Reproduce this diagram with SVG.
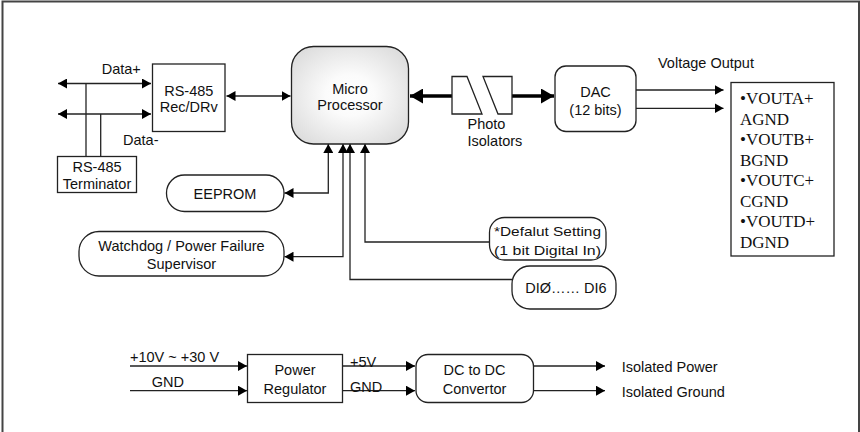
<svg xmlns="http://www.w3.org/2000/svg" width="860" height="432" viewBox="0 0 860 432">
<style>
.box{fill:#fff;stroke:#222;stroke-width:1.3}
.t{font-family:"Liberation Sans",Arial,sans-serif;font-size:14.5px;fill:#111}
.c{text-anchor:middle}
.tm{font-family:"Liberation Serif","Times New Roman",serif;font-size:17px;fill:#111}
.ln{fill:none;stroke:#222;stroke-width:1.3}
.thick{fill:none;stroke:#000;stroke-width:3.5}
</style>
<defs>
<marker id="a" markerUnits="userSpaceOnUse" markerWidth="10" markerHeight="10" refX="9" refY="5" orient="auto-start-reverse">
<path d="M0,0 L9,5 L0,10 z" fill="#000"/>
</marker>
<marker id="ab" markerUnits="userSpaceOnUse" markerWidth="14" markerHeight="15" refX="13" refY="7.5" orient="auto-start-reverse">
<path d="M0,0 L13,7.5 L0,15 z" fill="#000"/>
</marker>
<radialGradient id="g" cx="50%" cy="50%" r="70%">
<stop offset="0" stop-color="#ffffff"/>
<stop offset="0.3" stop-color="#fbfbfb"/>
<stop offset="1" stop-color="#d6d6d6"/>
</radialGradient>
</defs>
<path d="M2.5,434 V1.5 H859 V434" fill="none" stroke="#444" stroke-width="2"/>

<g id="connectors">
<line class="ln" x1="58" y1="83.5" x2="151" y2="83.5" marker-start="url(#a)" marker-end="url(#a)"/>
<line class="ln" x1="58" y1="114" x2="151" y2="114" marker-start="url(#a)" marker-end="url(#a)"/>
<line class="ln" x1="86" y1="83.5" x2="86" y2="156.5"/>
<line class="ln" x1="100.7" y1="114" x2="100.7" y2="156.5"/>
<line class="ln" x1="226.5" y1="96" x2="290.5" y2="96" marker-start="url(#a)" marker-end="url(#a)"/>
<line class="thick" x1="452" y1="96" x2="410" y2="96" marker-end="url(#ab)"/>
<line class="thick" x1="512" y1="96" x2="554" y2="96" marker-end="url(#ab)"/>
<line class="ln" x1="636" y1="90" x2="723.5" y2="90" marker-end="url(#a)"/>
<line class="ln" x1="636" y1="108.3" x2="723.5" y2="108.3" marker-end="url(#a)"/>
<path class="ln" d="M284.5,193 H328.3 V144" marker-start="url(#a)" marker-end="url(#a)"/>
<path class="ln" d="M284.5,256.7 H343 V144" marker-start="url(#a)" marker-end="url(#a)"/>
<path class="ln" d="M512,279.5 H350 V144" marker-end="url(#a)"/>
<path class="ln" d="M489.5,242 H365 V144" marker-end="url(#a)"/>
<line class="ln" x1="130" y1="366" x2="247" y2="366" marker-end="url(#a)"/>
<line class="ln" x1="130" y1="390.7" x2="247" y2="390.7" marker-end="url(#a)"/>
<line class="ln" x1="342.5" y1="366" x2="415" y2="366" marker-end="url(#a)"/>
<line class="ln" x1="342.5" y1="390.7" x2="415" y2="390.7" marker-end="url(#a)"/>
<line class="ln" x1="533.5" y1="366" x2="605" y2="366" marker-end="url(#a)"/>
<line class="ln" x1="533.5" y1="390.7" x2="605" y2="390.7" marker-end="url(#a)"/>
</g>

<g id="labels">
<text class="t" x="101.7" y="73.5">Data+</text>
<text class="t" x="123" y="145">Data-</text>
<text class="t" x="658" y="68">Voltage Output</text>
<text class="t" x="467.5" y="128.5">Photo</text>
<text class="t" x="467.5" y="145.5">Isolators</text>
<text class="t" x="130" y="362">+10V ~ +30 V</text>
<text class="t" x="151.7" y="387">GND</text>
<text class="t" x="350" y="367">+5V</text>
<text class="t" x="350" y="391.5">GND</text>
<text class="t" x="621.7" y="372">Isolated Power</text>
<text class="t" x="621.7" y="397">Isolated Ground</text>
</g>

<g id="rs485">
<rect class="box" x="152.5" y="64" width="72.5" height="67.5"/>
<text class="t c" x="188.8" y="96">RS-485</text>
<text class="t c" x="188.8" y="112">Rec/DRv</text>
</g>

<g id="terminator">
<rect class="box" x="57.5" y="156.5" width="79" height="36"/>
<text class="t c" x="97" y="172">RS-485</text>
<text class="t c" x="97" y="189">Terminator</text>
</g>

<g id="micro">
<rect x="291.5" y="46.5" width="117" height="97.5" rx="22" fill="url(#g)" stroke="#222" stroke-width="1.3"/>
<text class="t c" x="350" y="93.5">Micro</text>
<text class="t c" x="350" y="110">Processor</text>
</g>

<g id="photo">
<polygon class="box" points="452,76.5 467,76.5 482,114 452,114"/>
<polygon class="box" points="483,76.5 512,76.5 512,114 498,114"/>
</g>

<g id="dac">
<rect class="box" x="555" y="66" width="81" height="65.5" rx="11"/>
<text class="t c" x="595.5" y="97">DAC</text>
<text class="t c" x="595.5" y="114.5">(12 bits)</text>
</g>

<g id="output">
<rect class="box" x="731" y="82.5" width="103" height="173.5"/>
<text class="tm" x="740" y="104.3">•VOUTA+</text>
<text class="tm" x="740" y="124.8">AGND</text>
<text class="tm" x="740" y="145.3">•VOUTB+</text>
<text class="tm" x="740" y="165.8">BGND</text>
<text class="tm" x="740" y="186.3">•VOUTC+</text>
<text class="tm" x="740" y="206.8">CGND</text>
<text class="tm" x="740" y="227.3">•VOUTD+</text>
<text class="tm" x="740" y="247.8">DGND</text>
</g>

<g id="eeprom">
<rect class="box" x="166.5" y="175" width="117.5" height="36.5" rx="18"/>
<text class="t c" x="225" y="198.5">EEPROM</text>
</g>

<g id="watchdog">
<rect class="box" x="79" y="231.5" width="205" height="44.5" rx="20"/>
<text class="t c" x="181.5" y="251">Watchdog / Power Failure</text>
<text class="t c" x="181.5" y="268.5">Supervisor</text>
</g>

<g id="default">
<rect class="box" x="489.5" y="217.5" width="116.5" height="42.5" rx="15"/>
<text class="t c" x="547.5" y="236" style="font-size:13.5px" textLength="107" lengthAdjust="spacingAndGlyphs">*Defalut Setting</text>
<text class="t c" x="547.5" y="254.5" style="font-size:13.5px" textLength="107" lengthAdjust="spacingAndGlyphs">(1 bit Digital In)</text>
</g>

<g id="di">
<rect class="box" x="512" y="266" width="104" height="43" rx="18"/>
<text class="t c" x="566" y="292.5">DIØ…… DI6</text>
</g>

<g id="power">
<rect class="box" x="247.5" y="354.5" width="95" height="48"/>
<text class="t c" x="295" y="375">Power</text>
<text class="t c" x="295" y="393.5">Regulator</text>
</g>

<g id="dcdc">
<rect class="box" x="416" y="354.5" width="117.5" height="48" rx="12"/>
<text class="t c" x="474.5" y="375">DC to DC</text>
<text class="t c" x="474.5" y="393.5">Convertor</text>
</g>
</svg>
